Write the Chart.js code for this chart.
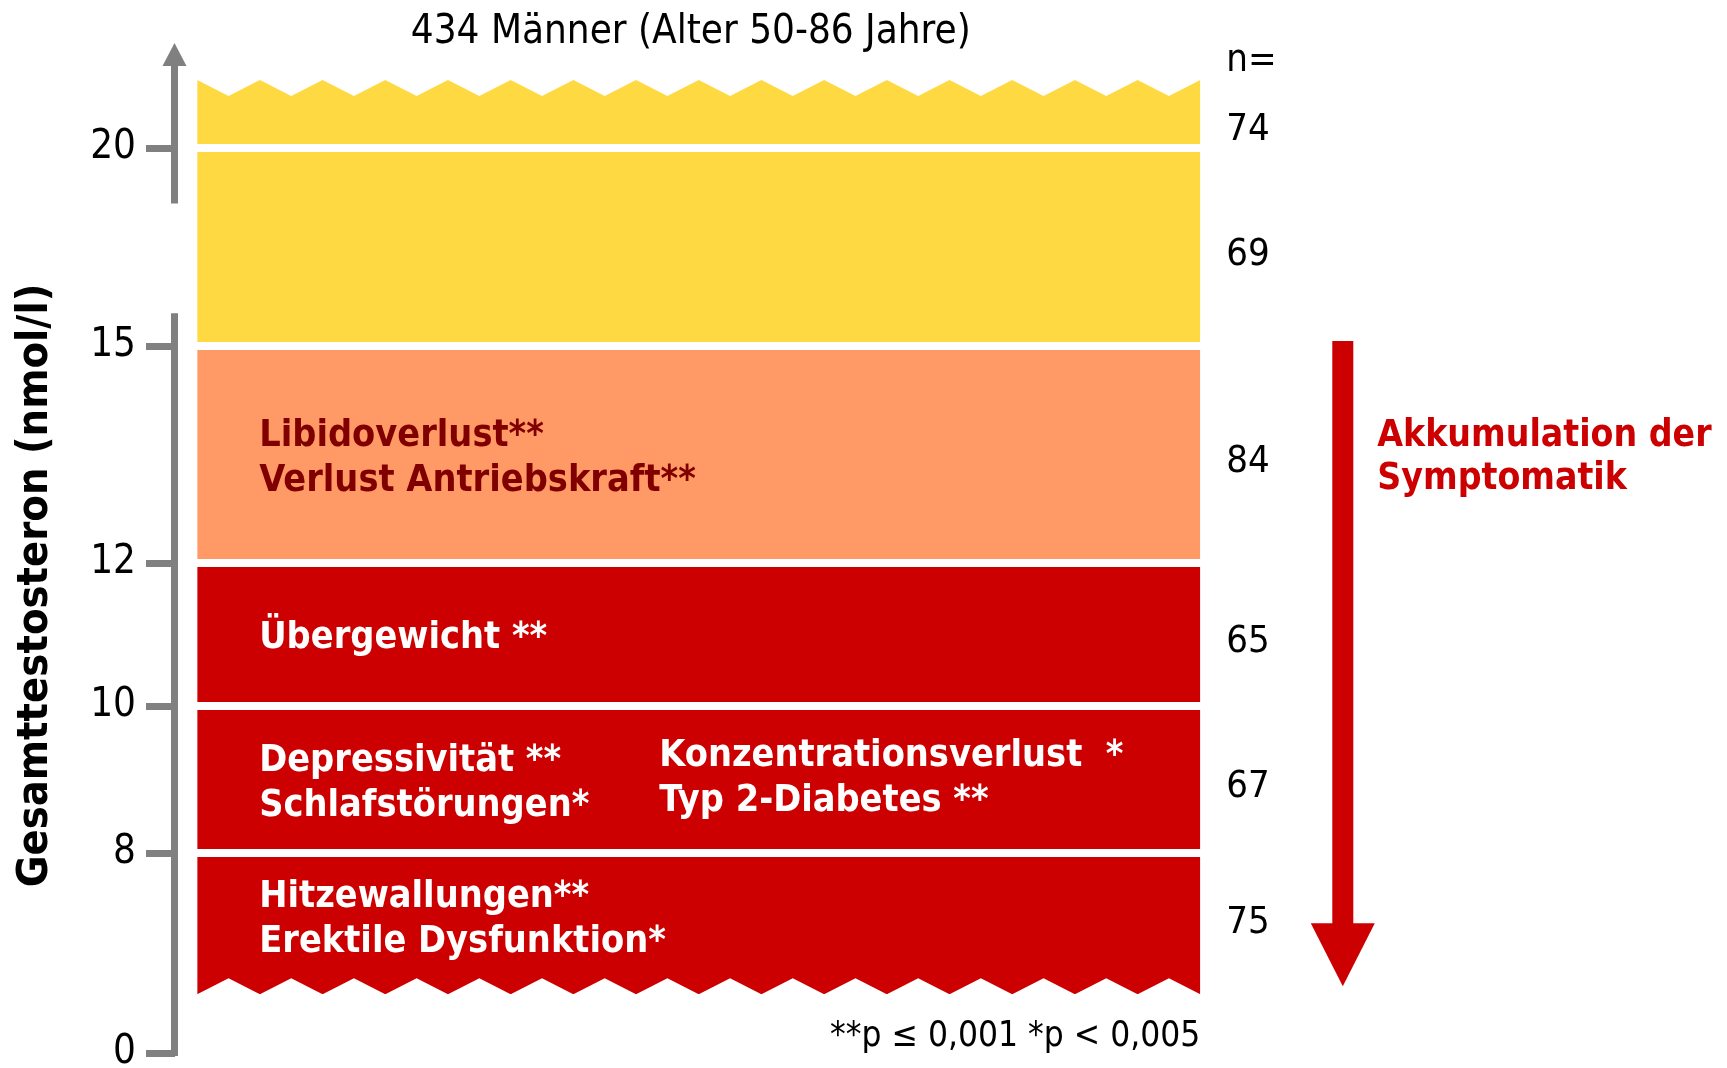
<!DOCTYPE html>
<html>
<head>
<meta charset="utf-8">
<script src="https://cdn.jsdelivr.net/npm/chart.js@4/dist/chart.umd.min.js"></script>
<style>
html, body { margin: 0; padding: 0; background: #fff; }
#wrap { width: 1727px; height: 1068px; }
</style>
</head>
<body>
<div id="wrap"><canvas id="chart"></canvas></div>
<script>
// Gesamttestosteron-Bereiche in nmol/l, von oben nach unten
const bandRanges = [[20, 21.7], [15, 20], [12, 15], [10, 12], [8, 10], [2.35, 8]];
const bandCounts = [74, 69, 84, 65, 67, 75];
const bandSymptoms = [
  [],
  [],
  [['Libidoverlust**', 'Verlust Antriebskraft**']],
  [['Übergewicht **']],
  [['Depressivität **', 'Schlafstörungen*'], ['Konzentrationsverlust  *', 'Typ 2-Diabetes **']],
  [['Hitzewallungen**', 'Erektile Dysfunktion*']]
];
const tickValues = [0, 8, 10, 12, 15, 20];

const titleText = '434 Männer (Alter 50-86 Jahre)';
const yTitle = 'Gesamttestosteron (nmol/l)';
const arrowText = ['Akkumulation der', 'Symptomatik'];
const footnote = '**p \u2264 0,001 *p < 0,005';

// styles
const bandColors = ['#FFD942', '#FFD942', '#FF9966', '#CC0000', '#CC0000', '#CC0000'];
const textColors = ['#000', '#000', '#800000', '#fff', '#fff', '#fff'];
const FONT = "'DejaVu Sans Condensed', 'DejaVu Sans', sans-serif";
const GREY = '#808080';
const RED = '#CC0000';

// gebrochene Achse: Wert -> relative Laenge
const axisStops = [[0, 0], [8, 200], [10, 347], [12, 490], [15, 707], [20, 905], [22, 985]];
const axisGap = [15.83, 18.6];

class BrokenLinearScale extends Chart.LinearScale {
  _unit(value) {
    const s = axisStops, last = s[s.length - 1][1];
    for (let i = 1; i < s.length; i++) {
      if (value <= s[i][0] || i === s.length - 1) {
        const [v0, p0] = s[i - 1], [v1, p1] = s[i];
        return (p0 + (value - v0) / (v1 - v0) * (p1 - p0)) / last;
      }
    }
  }
  getPixelForValue(value) {
    return this.bottom - this._unit(value) * (this.bottom - this.top);
  }
  getValueForPixel(pixel) {
    const s = axisStops, last = s[s.length - 1][1];
    const p = (this.bottom - pixel) / (this.bottom - this.top) * last;
    for (let i = 1; i < s.length; i++) {
      if (p <= s[i][1] || i === s.length - 1) {
        const [v0, p0] = s[i - 1], [v1, p1] = s[i];
        return v0 + (p - p0) / (p1 - p0) * (v1 - v0);
      }
    }
  }
}
BrokenLinearScale.id = 'brokenLinear';
BrokenLinearScale.defaults = Chart.LinearScale.defaults;
Chart.register(BrokenLinearScale);

const teeth = 16;
const toothDepth = 16;
const lineGap = 45;
const labelSize = 37.5;
const numSize = 38;

function capText(ctx, text, x, yMid, size) {
  ctx.fillText(text, x, yMid + size * 0.365);
}

const decor = {
  id: 'decor',
  afterDatasetsDraw(chart) {
    const { ctx, chartArea: ca, scales: { y } } = chart;
    const last = bandRanges.length - 1;
    const topBar = chart.getDatasetMeta(0).data[0];
    const botBar = chart.getDatasetMeta(last).data[0];
    const left = topBar.x - topBar.width / 2;
    const right = topBar.x + topBar.width / 2;
    const p = (right - left) / teeth;
    ctx.save();

    // Zackenraender
    ctx.fillStyle = '#fff';
    ctx.beginPath();
    ctx.moveTo(left - 1, topBar.y - 1);
    ctx.lineTo(left, topBar.y);
    for (let i = 0; i < teeth; i++) {
      ctx.lineTo(left + (i + 0.5) * p, topBar.y + toothDepth);
      ctx.lineTo(left + (i + 1) * p, topBar.y);
    }
    ctx.lineTo(right + 1, topBar.y - 1);
    ctx.closePath();
    ctx.fill();
    ctx.beginPath();
    ctx.moveTo(left - 1, botBar.base + 1);
    ctx.lineTo(left, botBar.base);
    for (let i = 0; i < teeth; i++) {
      ctx.lineTo(left + (i + 0.5) * p, botBar.base - toothDepth);
      ctx.lineTo(left + (i + 1) * p, botBar.base);
    }
    ctx.lineTo(right + 1, botBar.base + 1);
    ctx.closePath();
    ctx.fill();

    // Symptome und n
    const colOffsets = [62, 462];
    const colShift = [0, -5];
    bandRanges.forEach((r, i) => {
      const el = chart.getDatasetMeta(i).data[0];
      const hi = i === 0 ? el.y + toothDepth : el.y;
      const lo = i === last ? el.base - toothDepth : el.base;
      const mid = (hi + lo) / 2;
      ctx.fillStyle = textColors[i];
      ctx.font = 'bold ' + labelSize + 'px ' + FONT;
      ctx.textAlign = 'left';
      bandSymptoms[i].forEach((lines, c) => {
        lines.forEach((t, k) => {
          capText(ctx, t, left + colOffsets[c], mid + colShift[c] + (k - (lines.length - 1) / 2) * lineGap, labelSize);
        });
      });
      ctx.fillStyle = '#000';
      ctx.font = numSize + 'px ' + FONT;
      capText(ctx, String(bandCounts[i]), right + 26, mid + 4, numSize);
    });
    ctx.font = numSize + 'px ' + FONT;
    ctx.fillText('n=', right + 26, topBar.y - 9);

    // Titel
    ctx.textAlign = 'center';
    ctx.font = '40px ' + FONT;
    ctx.fillText(titleText, (left + right) / 2 - 8, 43);

    // Fussnote
    ctx.textAlign = 'right';
    ctx.font = '35px ' + FONT;
    ctx.fillText(footnote, right, y.getPixelForValue(0) - 7);

    // y-Achse mit Bruch und Pfeil
    const ax = ca.left - 0.5;
    const gapTop = y.getPixelForValue(axisGap[1]);
    const gapBot = y.getPixelForValue(axisGap[0]);
    ctx.strokeStyle = GREY;
    ctx.lineWidth = 7;
    ctx.beginPath();
    ctx.moveTo(ax, ca.top - 2);
    ctx.lineTo(ax, gapTop);
    ctx.moveTo(ax, gapBot);
    ctx.lineTo(ax, ca.bottom + 3);
    ctx.stroke();
    ctx.fillStyle = GREY;
    ctx.beginPath();
    ctx.moveTo(ax - 12, ca.top - 2);
    ctx.lineTo(ax + 12, ca.top - 2);
    ctx.lineTo(ax, ca.top - 25);
    ctx.closePath();
    ctx.fill();

    // y-Titel
    ctx.save();
    ctx.translate(36, (ca.top + ca.bottom) / 2 + 25);
    ctx.rotate(-Math.PI / 2);
    ctx.fillStyle = '#000';
    ctx.textAlign = 'center';
    ctx.textBaseline = 'middle';
    ctx.font = 'bold 43px ' + FONT;
    ctx.fillText(yTitle, 0, 0);
    ctx.restore();

    // Pfeil "Akkumulation der Symptomatik"
    const sx = right + 142.5;
    const sTop = y.getPixelForValue(15) - 5;
    const tip = botBar.base - 8;
    const headBase = tip - 63;
    ctx.fillStyle = RED;
    ctx.fillRect(sx - 10.5, sTop, 21, headBase - sTop + 1);
    ctx.beginPath();
    ctx.moveTo(sx - 32, headBase);
    ctx.lineTo(sx + 32, headBase);
    ctx.lineTo(sx, tip);
    ctx.closePath();
    ctx.fill();
    ctx.textAlign = 'left';
    ctx.font = 'bold 37px ' + FONT;
    arrowText.forEach((t, k) => ctx.fillText(t, right + 177, sTop + 105 + k * 43));

    ctx.restore();
  }
};

const datasets = bandRanges.map((r, i) => ({
  data: [r],
  backgroundColor: bandColors[i],
  borderColor: '#ffffff',
  borderWidth: { top: i === 0 ? 0 : 4, bottom: i === bandRanges.length - 1 ? 0 : 4, left: 0, right: 0 },
  borderSkipped: false,
  grouped: false,
  barPercentage: 0.9576,
  categoryPercentage: 1
}));

new Chart(document.getElementById('chart'), {
  type: 'bar',
  data: { labels: [''], datasets: datasets },
  options: {
    responsive: true,
    maintainAspectRatio: false,
    animation: false,
    layout: { padding: { left: 0, right: 504.5, top: 68, bottom: 15 } },
    plugins: { legend: { display: false }, tooltip: { enabled: false } },
    scales: {
      x: { display: false },
      y: {
        type: 'brokenLinear',
        min: 0,
        max: 22,
        afterBuildTicks: s => { s.ticks = tickValues.map(v => ({ value: v })); },
        afterFit: s => { s.width = 175; s.paddingTop = 0; s.paddingBottom = 0; },
        grid: { drawOnChartArea: false, drawTicks: true, tickLength: 29, tickWidth: 7, tickColor: GREY },
        border: { display: false },
        ticks: {
          autoSkip: false,
          padding: 10,
          color: '#000',
          font: { family: FONT, size: 40, lineHeight: 1 },
          callback: v => String(v)
        }
      }
    }
  },
  plugins: [decor]
});
</script>
</body>
</html>
